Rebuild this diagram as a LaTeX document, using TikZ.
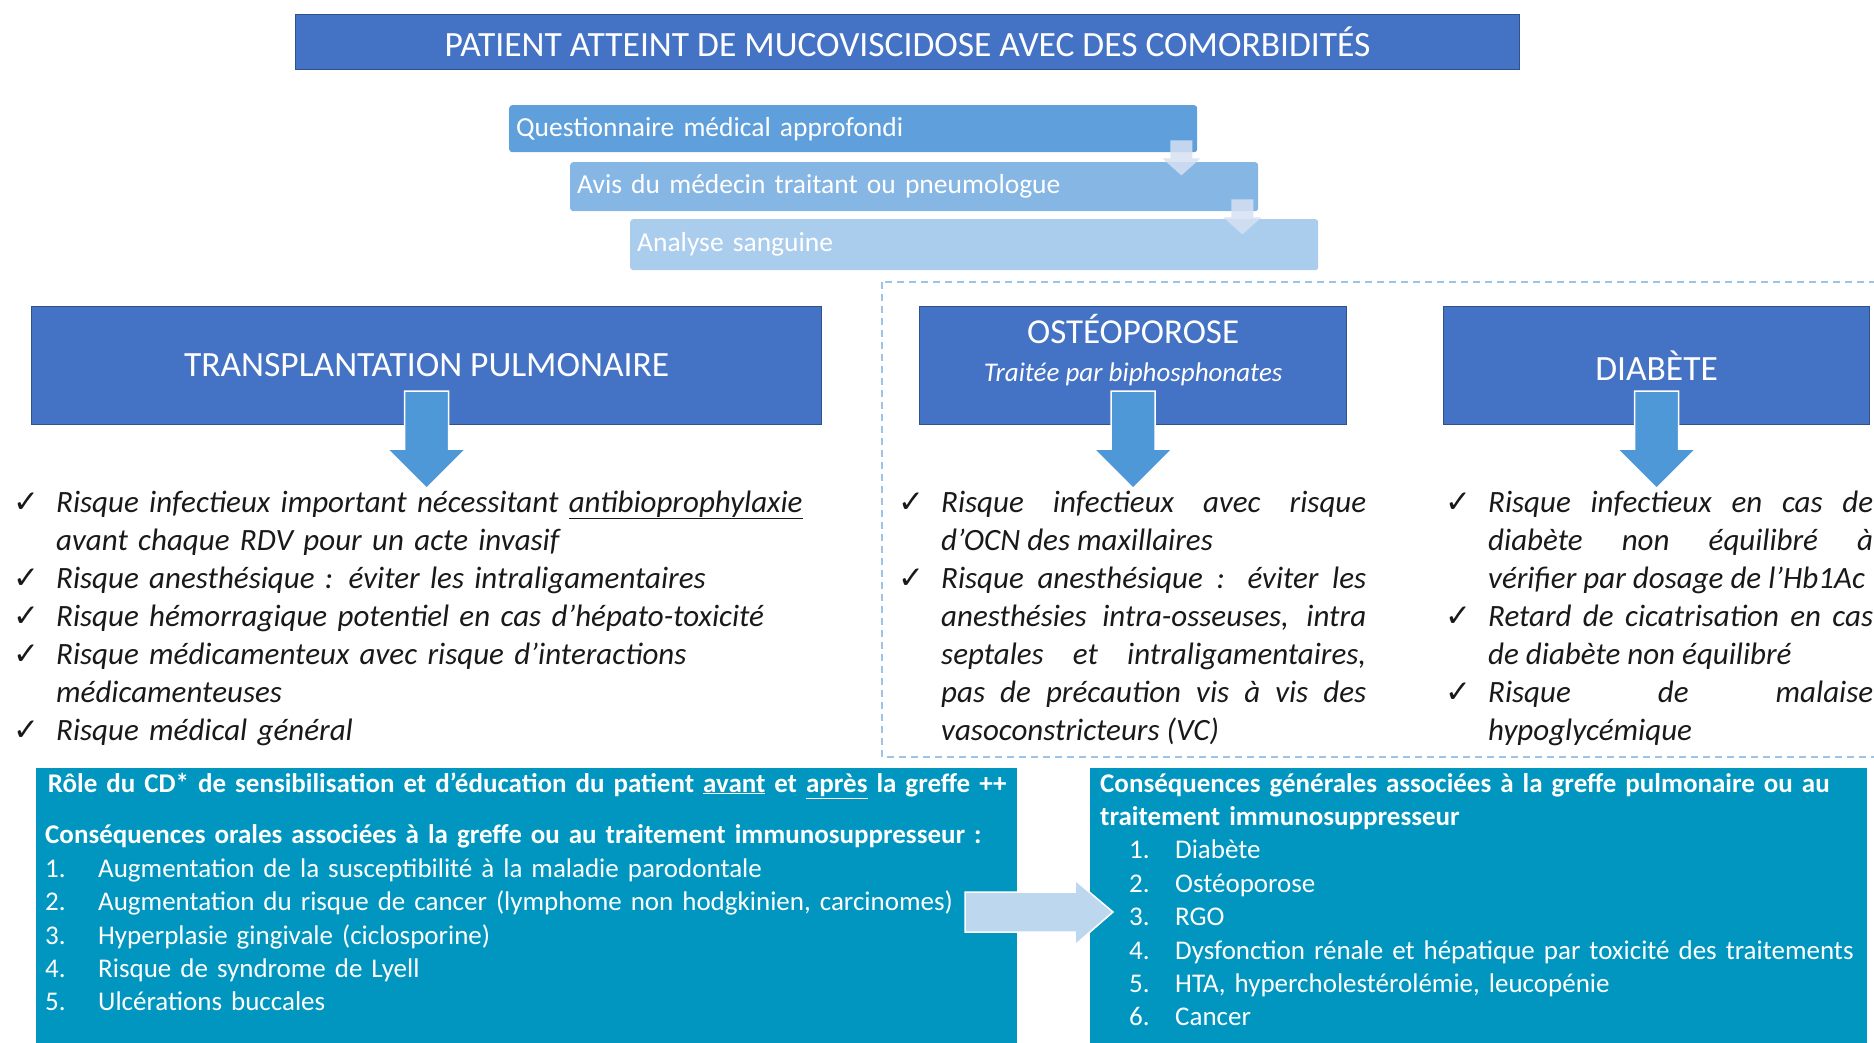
\documentclass[tikz,border=0pt]{standalone}
\usepackage{fontspec}
\setmainfont{Carlito}
\newfontfamily\symbfont{DejaVu Sans}
\definecolor{titleblue}{RGB}{68,114,196}
\definecolor{titleedge}{RGB}{47,82,143}
\definecolor{stepA}{RGB}{95,160,220}
\definecolor{stepB}{RGB}{134,182,228}
\definecolor{stepC}{RGB}{170,204,237}
\definecolor{stepflow}{RGB}{214,224,242}
\definecolor{riskarrow}{RGB}{78,152,216}
\definecolor{greffeteal}{RGB}{0,150,192}
\definecolor{greffearrow}{RGB}{189,215,238}
\definecolor{zoneblue}{RGB}{157,195,230}
\hyphenpenalty=10000
\exhyphenpenalty=10000
\newcommand{\chk}{\par\noindent\strut\llap{{\symbfont\upshape\fontsize{31}{31}\selectfont ✓}\hspace{17pt}}}
\newcommand{\nbr}[2]{\makebox[#1][l]{#2}}

\begin{document}
\begin{tikzpicture}[x=1pt, y=-1pt,
  titlebox/.style={draw=titleedge, line width=1.2pt, fill=titleblue, text=white, anchor=north west, inner sep=0pt, font=\fontsize{35.5}{38}\selectfont},
  stepbox/.style={rounded corners=3pt, anchor=north west, text=white, inner xsep=7pt, inner ysep=0pt, align=left, text width=674pt, font=\fontsize{27.5}{33}\selectfont},
  riskbox/.style={titlebox, minimum height=118pt},
  risklist/.style={anchor=north west, inner sep=0pt, text=black!90, font=\fontsize{31}{38}\selectfont\itshape},
  greffebox/.style={fill=greffeteal, anchor=north west, inner sep=0pt, minimum height=280pt},
  greffetext/.style={anchor=north west, inner sep=0pt, text=white, align=left, font=\fontsize{27}{33.4}\selectfont},
  flowarrow/.style={fill=stepflow, opacity=0.85},
  bluearrow/.style={fill=riskarrow, draw=white, line width=1.5pt},
  bigarrow/.style={fill=greffearrow, draw=white, line width=1.5pt},
  dashzone/.style={draw=zoneblue, line width=1.8pt, dash pattern=on 7pt off 5pt}]
\useasboundingbox (0,0) rectangle (1874,1042);
\clip (0,0) rectangle (1874,1042);

\node[titlebox, minimum width=1224pt, minimum height=55pt] (titre) at (295,14) {PATIENT ATTEINT DE MUCOVISCIDOSE AVEC DES COMORBIDITÉS};

\node[stepbox, fill=stepA, minimum height=47pt] (f1) at (509,105) {Questionnaire médical approfondi};
\node[stepbox, fill=stepB, minimum height=49pt] (f2) at (570,162) {Avis du médecin traitant ou pneumologue};
\node[stepbox, fill=stepC, minimum height=51pt] (f3) at (630,219) {Analyse sanguine};
\foreach \b in {f1,f2}
  \fill[flowarrow, shift={(\b.south east)}] (-27,-12) -- (-5,-12) -- (-5,6) -- (3,6) -- (-16,23) -- (-35,6) -- (-27,6) -- cycle;

\draw[dashzone] (882,282) rectangle (1900,757);

\node[riskbox, minimum width=790pt] (tp) at (31,306) {TRANSPLANTATION PULMONAIRE};
\node[riskbox, minimum width=427pt] (os) at (919,306) {};
\node[text=white, align=center, font=\fontsize{35}{38}\selectfont] (ostitre) at ([yshift=16pt]os.center) {OSTÉOPOROSE\\{\fontsize{27}{30}\selectfont\itshape Traitée par biphosphonates}};
\node[riskbox, minimum width=426pt] (db) at (1443,306) {DIABÈTE};
\foreach \b in {tp,os,db}
  \filldraw[bluearrow, shift={(\b.south)}] (-22,-34) -- (22,-34) -- (22,24) -- (39,24) -- (0,63) -- (-39,24) -- (-22,24) -- cycle;

\node[risklist, text width=800pt, align=left] (tplist) at (56,474) {\chk Risque infectieux important nécessitant \underline{antibioprophylaxie}\\avant chaque RDV pour un acte invasif
\chk Risque anesthésique : éviter les intraligamentaires
\chk Risque hémorragique potentiel en cas d’hépato-toxicité
\chk Risque médicamenteux avec risque d’interactions\\médicamenteuses
\chk Risque médical général};
\node[risklist, text width=425pt, align=justify] (oslist) at (941,474) {\chk Risque infectieux avec risque\linebreak d’OCN des maxillaires
\chk Risque anesthésique : éviter les\linebreak anesthésies intra-osseuses, intra\linebreak septales et intraligamentaires,\linebreak pas de précaution vis à vis des\linebreak vasoconstricteurs (VC)};
\node[risklist, text width=385pt, align=justify] (dblist) at (1488,474) {\chk Risque infectieux en cas de\linebreak diabète non équilibré à\linebreak vérifier par dosage de l’Hb1Ac
\chk Retard de cicatrisation en cas\linebreak de diabète non équilibré
\chk Risque de malaise\linebreak hypoglycémique};

\node[greffebox, minimum width=981pt] (cgl) at (36,768) {};
\node[greffebox, minimum width=777pt] (cgr) at (1090,768) {};
\node[greffetext, text width=964pt] (oral) at (45,768.5) {\strut\makebox[964pt][c]{\bfseries Rôle du CD* de sensibilisation et d’éducation du patient \underline{avant} et \underline{après} la greffe ++}\\[18.5pt]
{\bfseries Conséquences orales associées à la greffe ou au traitement immunosuppresseur :}\\
\nbr{53pt}{1.}Augmentation de la susceptibilité à la maladie parodontale\\
\nbr{53pt}{2.}Augmentation du risque de cancer (lymphome non hodgkinien, carcinomes)\\
\nbr{53pt}{3.}Hyperplasie gingivale (ciclosporine)\\
\nbr{53pt}{4.}Risque de syndrome de Lyell\\
\nbr{53pt}{5.}Ulcérations buccales};
\node[greffetext, text width=770pt] (generale) at (1100,768.5) {\strut{\bfseries Conséquences générales associées à la greffe pulmonaire ou au\\traitement immunosuppresseur}\\
\hspace*{29pt}\nbr{46pt}{1.}Diabète\\
\hspace*{29pt}\nbr{46pt}{2.}Ostéoporose\\
\hspace*{29pt}\nbr{46pt}{3.}RGO\\
\hspace*{29pt}\nbr{46pt}{4.}Dysfonction rénale et hépatique par toxicité des traitements\\
\hspace*{29pt}\nbr{46pt}{5.}HTA, hypercholestérolémie, leucopénie\\
\hspace*{29pt}\nbr{46pt}{6.}Cancer};
\coordinate (greffeflux) at (965,912);
\filldraw[bigarrow, shift={(greffeflux)}] (0,-20) -- (110,-20) -- (110,-32) -- (148,0) -- (110,33) -- (110,20) -- (0,20) -- cycle;
\end{tikzpicture}
\end{document}
